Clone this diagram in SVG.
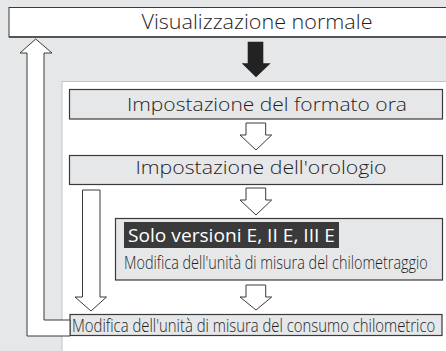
<svg xmlns="http://www.w3.org/2000/svg" width="446" height="351" viewBox="0 0 446 351">
<style>
.t{font-family:"Open Sans","Noto Sans","Liberation Sans",sans-serif;font-weight:300;fill:#1e1e1e;}
.box{fill:#e6e7e8;stroke:#3a3a3a;stroke-width:1.2;}
.arr{fill:#fff;stroke:#3a3a3a;stroke-width:1;stroke-linejoin:miter;}
</style>
<rect x="0" y="0" width="446" height="351" fill="#e6e7e8"/>
<rect x="62" y="81.5" width="390" height="280" fill="#fff" stroke="#c4c4c4" stroke-width="1"/>
<g id="node-visualizzazione">
<rect x="9" y="7.5" width="445" height="29.5" fill="#fff" stroke="#3a3a3a" stroke-width="1"/>
<line x1="9" y1="37" x2="446" y2="37" stroke="#555" stroke-width="2"/>
<text class="t" x="257" y="29" font-size="19.5" text-anchor="middle" textLength="231" lengthAdjust="spacingAndGlyphs">Visualizzazione normale</text>
</g>
<g id="node-formato-ora">
<rect class="box" x="69.5" y="89.5" width="373" height="29.5"/>
<text class="t" x="267" y="110.5" font-size="17.5" text-anchor="middle" textLength="280" lengthAdjust="spacingAndGlyphs">Impostazione del formato ora</text>
</g>
<g id="node-orologio">
<rect class="box" x="69.5" y="155.5" width="373" height="29"/>
<text class="t" x="261" y="173.5" font-size="17.5" text-anchor="middle" textLength="251" lengthAdjust="spacingAndGlyphs">Impostazione dell'orologio</text>
</g>
<g id="node-chilometraggio">
<rect class="box" x="115.5" y="218.5" width="327" height="61.5"/>
<rect x="124" y="222" width="215" height="26" fill="#3a3a3a"/>
<text x="128" y="241.5" font-size="18" fill="#fff" font-family="'Open Sans','Noto Sans','Liberation Sans',sans-serif" textLength="207" lengthAdjust="spacingAndGlyphs">Solo versioni E, II E, III E</text>
<text class="t" transform="translate(124,268.5) scale(0.7,1)" x="0" y="0" font-size="18.5" textLength="434" lengthAdjust="spacingAndGlyphs">Modifica dell'unità di misura del chilometraggio</text>
</g>
<g id="node-consumo">
<rect class="box" x="70" y="314.5" width="372" height="21"/>
<text class="t" transform="translate(72,332) scale(0.76,1)" x="0" y="0" font-size="17.5" textLength="478" lengthAdjust="spacingAndGlyphs">Modifica dell'unità di misura del consumo chilometrico</text>
</g>
<g id="connectors">
<polygon points="247.7,41.7 263.3,41.7 263.3,63.3 270.7,63.3 256,77.3 241.7,63.3 247.7,63.3" fill="#222"/>
<polygon class="arr" points="246,123 265.7,123 265.7,135 271.7,135 256,150 240,135 246,135"/>
<polygon class="arr" points="246,188 265.7,188 265.7,200 271.7,200 256,215 240,200 246,200"/>
<polygon class="arr" points="246,285 265.7,285 265.7,297 271.7,297 256,310 240,297 246,297"/>
<polygon class="arr" points="82.5,190 100,190 100,297 106.5,297 91,311 75,297 82.5,297"/>
<polygon class="arr" points="70,336 27,336 27,53 20,53 35.7,39 52,53 44,53 44,320 70,320"/>
</g>
</svg>
